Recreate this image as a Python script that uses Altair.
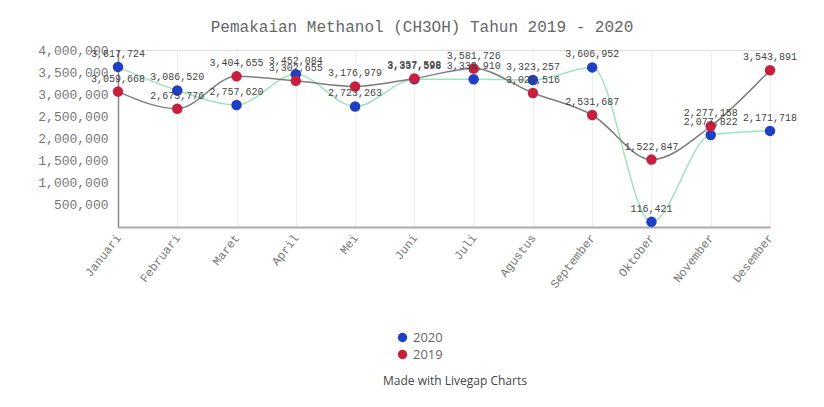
import altair as alt
import pandas as pd

months = ["Januari", "Februari", "Maret", "April", "Mei", "Juni", "Juli",
          "Agustus", "September", "Oktober", "November", "Desember"]
values_2020 = [3617724, 3086520, 2757620, 3452084, 2723263, 3337598, 3338910,
               3323257, 3606952, 116421, 2077822, 2171718]
values_2019 = [3059668, 2673776, 3404655, 3302655, 3176979, 3357598, 3581726,
               3028516, 2531687, 1522847, 2277158, 3543891]
series_names = ["2020", "2019"]
y_ticks = [500000, 1000000, 1500000, 2000000, 2500000, 3000000, 3500000, 4000000]

rows = []
for name, vals in zip(series_names, [values_2020, values_2019]):
    for i, (m, v) in enumerate(zip(months, vals)):
        rows.append({"month": m, "value": v, "series": name, "order": i})
df = pd.DataFrame(rows)

mono = "Liberation Mono"

x_enc = alt.X("month:N", sort=months, title=None,
              scale=alt.Scale(type="point", padding=0),
              axis=alt.Axis(labelAngle=-52, labelFont=mono, labelFontSize=12,
                            labelColor="#777", labelPadding=8, ticks=False,
                            domainColor="#aaa", domainWidth=2,
                            grid=True, gridColor="#eeeeee"))
y_enc = alt.Y("value:Q", title=None,
              scale=alt.Scale(domain=[0, 4000000], nice=False),
              axis=alt.Axis(values=y_ticks,
                            labelExpr="format(datum.value, ',')",
                            labelFont=mono,
                            labelFontSize=13, labelColor="#777", ticks=False,
                            labelPadding=10, domainColor="#888", domainWidth=1.5,
                            grid=False))

base = alt.Chart(df)

lines = base.mark_line(interpolate="monotone", strokeWidth=1.5).encode(
    x=x_enc, y=y_enc,
    color=alt.Color("series:N", scale=alt.Scale(domain=series_names,
                    range=["#9fe3bd", "#7d7d7d"]), legend=None),
    order="order:Q",
)

points = base.mark_circle(size=110, opacity=1).encode(
    x=x_enc, y=y_enc,
    color=alt.Color("series:N", scale=alt.Scale(domain=series_names,
                    range=["#1f3fc4", "#c8203c"]),
                    legend=alt.Legend(title=None, orient="none", legendX=278,
                                      legendY=281, symbolType="circle",
                                      symbolSize=90, labelFont="Open Sans",
                                      labelFontSize=13, labelColor="#666",
                                      rowPadding=3, symbolStrokeWidth=0)),
)

labels = base.mark_text(font=mono, fontSize=10, color="#444", dy=-13).encode(
    x=x_enc, y=y_enc,
    text=alt.Text("value:Q", format=","),
)

credit = alt.Chart(pd.DataFrame({"t": ["Made with Livegap Charts"]})).mark_text(
    font="Open Sans", fontSize=12, color="#444", align="center"
).encode(x=alt.value(337), y=alt.value(331), text="t:N")

chart = alt.layer(lines, points, labels, credit).resolve_scale(
    color="independent"
).properties(
    width=652, height=177,
    title=alt.TitleParams("Pemakaian Methanol (CH3OH) Tahun 2019 - 2020",
                          font=mono, fontSize=16, color="#666",
                          fontWeight="normal", anchor="middle", dx=-22, offset=9),
    autosize=alt.AutoSizeParams(type="none"),
    padding={"left": 110, "top": 42, "right": 46, "bottom": 172},
).configure_view(stroke=None).configure(background="white")

chart.save("out.html", embed_options={"renderer": "svg", "actions": False})
